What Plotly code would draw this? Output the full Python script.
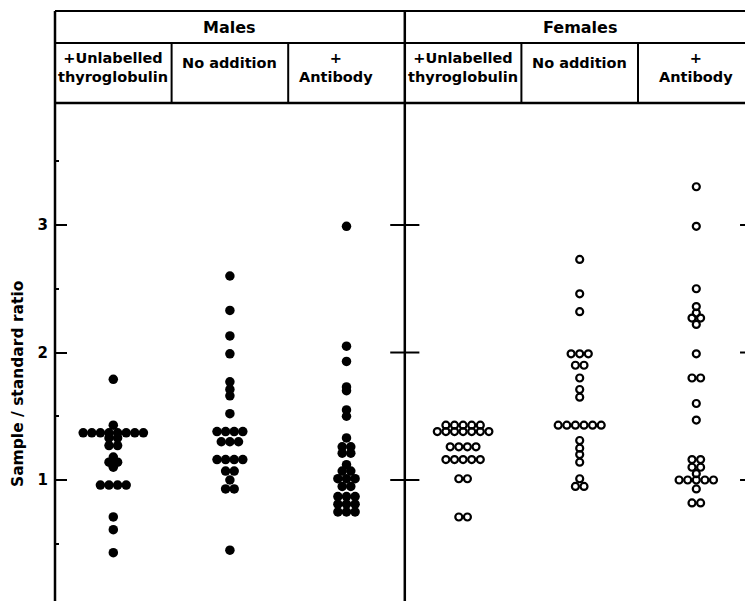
import plotly.graph_objects as go
from collections import Counter

# ---------------- data ----------------
sexes = ["Males", "Females"]
treatments = ["+Unlabelled<br>thyroglobulin", "No addition", "+<br>Antibody"]
y_ticks = [1, 2, 3]

males_unlabelled = [1.79, 1.43, 1.37, 1.37, 1.37, 1.37, 1.37, 1.37, 1.37, 1.37,
                    1.33, 1.33, 1.27, 1.27, 1.18, 1.14, 1.14, 1.10,
                    0.96, 0.96, 0.96, 0.96, 0.71, 0.61, 0.43]
males_no_addition = [2.60, 2.33, 2.13, 1.99, 1.77, 1.71, 1.66, 1.52,
                     1.38, 1.38, 1.38, 1.38, 1.30, 1.30, 1.30,
                     1.16, 1.16, 1.16, 1.16, 1.07, 1.07, 1.00, 0.93, 0.93, 0.45]
males_antibody = [2.99, 2.05, 1.93, 1.73, 1.70, 1.55, 1.50, 1.33,
                  1.26, 1.26, 1.21, 1.21, 1.12, 1.07, 1.07,
                  1.01, 1.01, 1.01, 0.95, 0.95,
                  0.87, 0.87, 0.87, 0.81, 0.81, 0.81, 0.75, 0.75, 0.75]
females_unlabelled = [1.43, 1.43, 1.43, 1.43, 1.43,
                      1.38, 1.38, 1.38, 1.38, 1.38, 1.38, 1.38,
                      1.26, 1.26, 1.26, 1.26,
                      1.16, 1.16, 1.16, 1.16, 1.16,
                      1.01, 1.01, 0.71, 0.71]
females_no_addition = [2.73, 2.46, 2.32, 1.99, 1.99, 1.99, 1.90, 1.90,
                       1.80, 1.71, 1.65,
                       1.43, 1.43, 1.43, 1.43, 1.43, 1.43,
                       1.31, 1.25, 1.20, 1.14, 1.01, 0.95, 0.95]
females_antibody = [3.30, 2.99, 2.50, 2.36, 2.31, 2.27, 2.27, 2.22, 1.99,
                    1.80, 1.80, 1.60, 1.47, 1.16, 1.16, 1.10, 1.10, 1.05,
                    1.00, 1.00, 1.00, 1.00, 1.00, 0.93, 0.82, 0.82]

columns = [males_unlabelled, males_no_addition, males_antibody,
           females_unlabelled, females_no_addition, females_antibody]

# ---------------- layout geometry ----------------
W, H = 745, 601
ML, MT = 55, 103
plot_w = W - ML
plot_h = H - MT
col_px = 116.6
x_range = [-0.5, -0.5 + plot_w / col_px]
y_range = [0.051, 3.957]
step = 8.6 / col_px          # horizontal spacing of tied dots (x units)

FONT = "DejaVu Sans"


def row_offsets(values):
    counts = Counter(values)
    seen = {}
    out = []
    for v in values:
        n = counts[v]
        i = seen.get(v, 0)
        seen[v] = i + 1
        out.append((i - (n - 1) / 2) * step)
    return out


def xp(cat):
    return (cat - x_range[0]) / (x_range[1] - x_range[0])


def yp(pix):
    return (H - pix) / plot_h


fig = go.Figure()
for k, vals in enumerate(columns):
    offs = row_offsets(vals)
    female = k >= 3
    fig.add_trace(go.Scatter(
        x=[k + o for o in offs], y=vals, mode="markers",
        marker=dict(
            symbol="circle-open" if female else "circle",
            size=7 if female else 9.5,
            color="black",
            line=dict(width=2.2 if female else 0, color="black"),
        ),
        showlegend=False, hoverinfo="y",
    ))

shapes = []
LW = 2.5
# header horizontal lines
for pix, w in [(11, 2), (43, 2), (103, 2.5)]:
    shapes.append(dict(type="line", xref="paper", yref="paper",
                       x0=0, x1=1, y0=yp(pix), y1=yp(pix),
                       line=dict(color="black", width=w)))
# header column separators
for c in [0.5, 1.5, 3.5, 4.5]:
    shapes.append(dict(type="line", xref="paper", yref="paper",
                       x0=xp(c), x1=xp(c), y0=yp(43), y1=yp(103),
                       line=dict(color="black", width=2)))
# full height verticals
for c in [-0.5, 2.5]:
    shapes.append(dict(type="line", xref="paper", yref="paper",
                       x0=xp(c), x1=xp(c), y0=0, y1=yp(11),
                       line=dict(color="black", width=LW)))
# ticks on the divider and right frame
for t in y_ticks:
    for c in [2.5, 5.5]:
        shapes.append(dict(type="line", xref="x", yref="y",
                           x0=c - 0.125, x1=c + 0.125, y0=t, y1=t,
                           line=dict(color="black", width=2)))

annotations = []
for i, s in enumerate(sexes):
    annotations.append(dict(text=s, xref="paper", yref="paper",
                            x=xp(1 + 3 * i), y=yp(27.5), showarrow=False,
                            xanchor="center", yanchor="middle",
                            font=dict(family=FONT, size=16, color="black", weight="bold")))
for i in range(2):
    for j, t in enumerate(treatments):
        cx = 3 * i + j
        if i == 0 and j == 2:
            cx -= 0.09
        cy = 63 if j == 1 else 67
        annotations.append(dict(text=t, xref="paper", yref="paper",
                                x=xp(cx), y=yp(cy), showarrow=False,
                                xanchor="center", yanchor="middle",
                                font=dict(family=FONT, size=14.5, color="black", weight="bold")))
annotations.append(dict(text="Sample / standard ratio", xref="paper", yref="paper",
                        x=(18 - ML) / plot_w, y=yp(384), textangle=-90,
                        showarrow=False, xanchor="center", yanchor="middle",
                        font=dict(family=FONT, size=15.5, color="black", weight="bold")))

fig.update_layout(
    width=W, height=H,
    margin=dict(l=ML, r=0, t=MT, b=0, pad=0),
    paper_bgcolor="white", plot_bgcolor="white",
    shapes=shapes, annotations=annotations,
    xaxis=dict(range=x_range, visible=False, showgrid=False, zeroline=False),
    yaxis=dict(range=y_range, tickvals=y_ticks, ticks="inside", ticklen=12,
               tickwidth=2, tickcolor="black", showgrid=False, zeroline=False,
               showline=False, ticklabelstandoff=6,
               tickfont=dict(family=FONT, size=15, color="black", weight="bold"),
               minor=dict(ticks="inside", ticklen=4, tickwidth=1.5,
                          tickcolor="black", dtick=0.5, tick0=0, showgrid=False)),
)

fig.write_html("out.html",
               config={"displayModeBar": False},
               post_script="document.body.style.margin='0';document.body.style.overflow='hidden';")
